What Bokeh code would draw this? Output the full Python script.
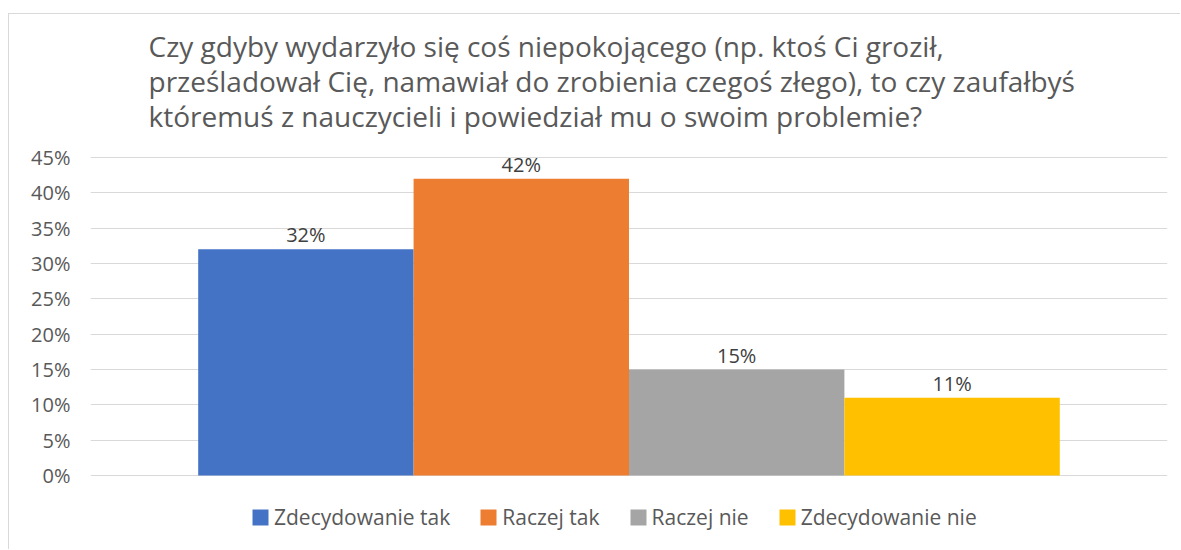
from bokeh.plotting import figure
from bokeh.models import (ColumnDataSource, FactorRange, FixedTicker, NumeralTickFormatter,
                          Label, Legend, LegendItem, LabelSet, Range1d)
from bokeh.core.properties import field, value
from bokeh.embed import file_html
from bokeh.resources import INLINE

# ---- data ----
categories = ["Zdecydowanie tak", "Raczej tak", "Raczej nie", "Zdecydowanie nie"]
values = [0.32, 0.42, 0.15, 0.11]
value_labels = ["32%", "42%", "15%", "11%"]
colors = ["#4472C4", "#ED7D31", "#A5A5A5", "#FFC000"]
y_ticks = [0.0, 0.05, 0.10, 0.15, 0.20, 0.25, 0.30, 0.35, 0.40, 0.45]
title_lines = [
    "Czy gdyby wydarzyło się coś niepokojącego (np. ktoś Ci groził,",
    "prześladował Cię, namawiał do zrobienia czegoś złego), to czy zaufałbyś",
    "któremuś z nauczycieli i powiedział mu o swoim problemie?",
]

FONT = "Open Sans"
TXT = "#595959"

OFF_X, OFF_Y = 9, 14                      # figure content origin on the page
W, H = 1181 - OFF_X, 550 - OFF_Y
PLOT_TOP, PLOT_BOTTOM = 157 - OFF_Y, 475 - OFF_Y   # rows of 45% and 0% in canvas
Y_MAX = 0.45
ppu = (PLOT_BOTTOM - PLOT_TOP) / Y_MAX
y_lo = -(H - PLOT_BOTTOM) / ppu
y_hi = Y_MAX + PLOT_TOP / ppu

src = ColumnDataSource(dict(cat=categories, val=values, lab=value_labels, color=colors))

p = figure(width=W, height=H, output_backend="svg", toolbar_location=None,
           x_range=FactorRange(factors=categories, range_padding=0.25),
           y_range=Range1d(y_lo, y_hi), x_axis_location=None,
           min_border_left=90 - OFF_X, min_border_right=14, min_border_top=0, min_border_bottom=0)
p.styles = {"margin-left": "8px", "margin-top": "13px",
            "border-left": "1px solid #D9D9D9", "border-top": "1px solid #D9D9D9"}

p.outline_line_color = None
p.background_fill_color = "white"
p.border_fill_color = "white"

r = p.vbar(x="cat", top="val", width=1.0, color="color", line_color=None, source=src)

# axes
p.xgrid.grid_line_color = None
p.yaxis.ticker = FixedTicker(ticks=y_ticks)
p.yaxis.formatter = NumeralTickFormatter(format="0%")
p.yaxis.axis_line_color = None
p.yaxis.major_tick_line_color = None
p.yaxis.minor_tick_line_color = None
p.yaxis.major_label_text_font = FONT
p.yaxis.major_label_text_font_size = "20px"
p.yaxis.major_label_text_color = TXT
p.yaxis.major_label_standoff = 14
p.ygrid.grid_line_color = "#D9D9D9"
p.ygrid.grid_line_width = 1

# data labels
labels = LabelSet(x="cat", y="val", text="lab", source=src, text_align="center",
                  text_baseline="bottom", y_offset=1, text_font=value(FONT),
                  text_font_size="20px", text_color="#404040")
p.add_layout(labels)

# title lines (screen units relative to the frame: x from left, y up from bottom)
for i, line in enumerate(title_lines):
    p.add_layout(Label(x=58, y=(550 - 45) - 35 * i, x_units="screen", y_units="screen",
                       text=line, text_font=FONT, text_font_size="28px",
                       text_color=TXT, text_baseline="middle"))

# legend
legend = Legend(items=[LegendItem(label=field("cat"), renderers=[r])],
                orientation="horizontal", location=(160, 19),
                label_text_font=FONT, label_text_font_size="21px",
                label_text_color=TXT, glyph_width=20, glyph_height=20,
                label_standoff=4, spacing=28, border_line_color=None,
                background_fill_alpha=0, padding=0, margin=0)
p.add_layout(legend, "center")

open("out.html", "w").write(file_html(p, INLINE))
